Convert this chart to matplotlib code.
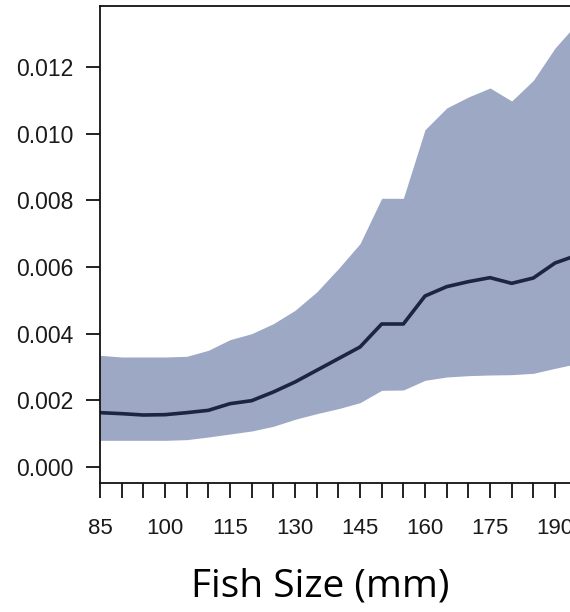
import numpy as np
import matplotlib
matplotlib.use("Agg")
import matplotlib.pyplot as plt
from matplotlib.ticker import MultipleLocator

# fish size (mm) and predicted value with its interval
size = np.array([85, 90, 95, 100, 105, 110, 115, 120, 125, 130, 135, 140,
                 145, 150, 155, 160, 165, 170, 175, 180, 185, 190, 195])
mean = np.array([0.00163, 0.00160, 0.00156, 0.00157, 0.00163, 0.00170, 0.00190,
                 0.00199, 0.00225, 0.00255, 0.00290, 0.00325, 0.00360, 0.00429,
                 0.00429, 0.00513, 0.00541, 0.00556, 0.00568, 0.00551, 0.00567,
                 0.00612, 0.00635])
upper = np.array([0.00335, 0.00330, 0.00330, 0.00330, 0.00332, 0.00350, 0.00382,
                  0.00400, 0.00430, 0.00470, 0.00525, 0.00595, 0.00670, 0.00806,
                  0.00806, 0.01012, 0.01077, 0.01110, 0.01137, 0.01098, 0.01160,
                  0.01257, 0.01330])
lower = np.array([0.00080, 0.00080, 0.00080, 0.00080, 0.00082, 0.00090, 0.00099,
                  0.00108, 0.00122, 0.00143, 0.00160, 0.00175, 0.00193, 0.00230,
                  0.00231, 0.00260, 0.00270, 0.00274, 0.00276, 0.00277, 0.00281,
                  0.00296, 0.00310])
yticks = [0.000, 0.002, 0.004, 0.006, 0.008, 0.010, 0.012]
xticks = [85, 100, 115, 130, 145, 160, 175, 190]

fig = plt.figure(figsize=(5.7, 6.12), dpi=100)
ax = fig.add_axes([100 / 570, 129 / 612, 476.7 / 570, 477 / 612])

ax.fill_between(size, lower, upper, color="#9da8c4", linewidth=0)
ax.plot(size, mean, color="#1c2541", linewidth=2.6)

ax.set_xlim(85, 195)
ax.set_ylim(-0.00048, 0.01383)
ax.set_xticks(xticks)
ax.xaxis.set_minor_locator(MultipleLocator(5))
ax.set_yticks(yticks)
ax.set_yticklabels([f"{v:.3f}" for v in yticks])

for sp in ax.spines.values():
    sp.set_linewidth(1.3)
    sp.set_color("#111111")

ax.tick_params(axis="both", which="both", direction="out", width=1.3,
               color="#111111", labelcolor="#1a1a1a")
ax.tick_params(axis="y", length=10, pad=9, labelsize=16.5)
ax.tick_params(axis="x", which="both", length=11)
ax.tick_params(axis="x", which="major", pad=14, labelsize=16)
for lab in ax.get_xticklabels() + ax.get_yticklabels():
    lab.set_fontfamily("Liberation Sans")

fig.text(320 / 570, 1 - 587 / 612, "Fish Size (mm)", ha="center", va="center",
         fontsize=28, family="Open Sans", color="black")

fig.savefig("out.png", dpi=100)
